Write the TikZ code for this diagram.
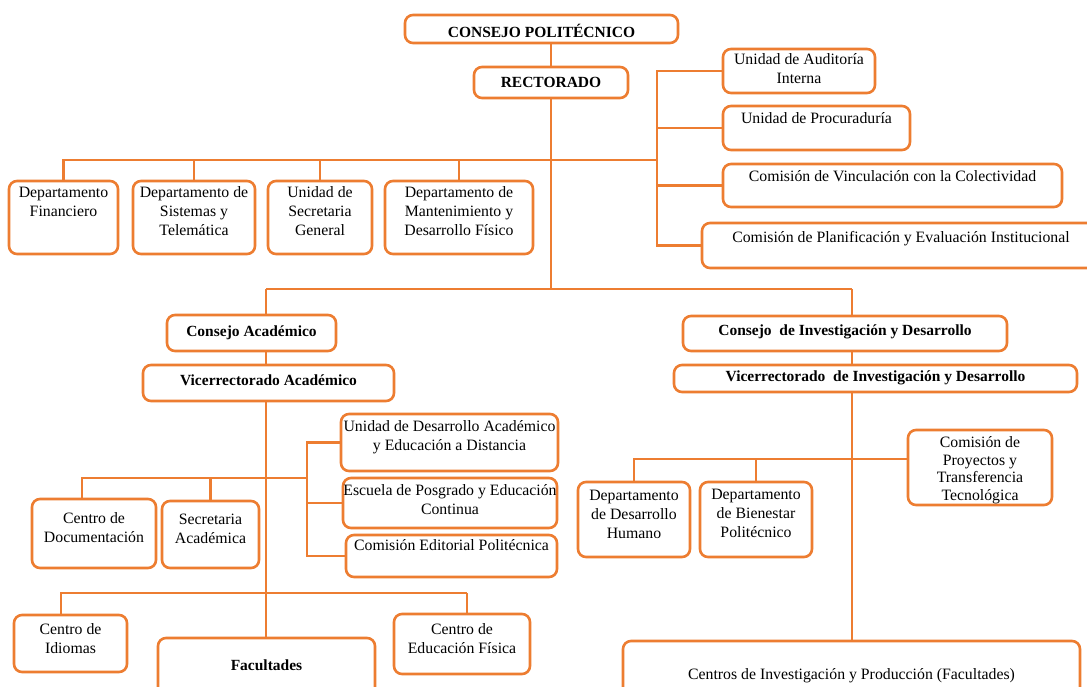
\documentclass[tikz,border=0pt]{standalone}
\usepackage{fontspec}
\setmainfont{Liberation Serif}
\usetikzlibrary{positioning,fit}
\definecolor{orgline}{RGB}{237,125,49}

\begin{document}
\begin{tikzpicture}[x=1pt,y=-1pt,
    box/.style={draw=orgline, line width=2.6pt, rounded corners=8pt, inner sep=0pt, fit={#1}},
    txt/.style={inner sep=0pt, align=center, font=\fontsize{15.8}{19}\selectfont},
    btxt/.style={txt, font=\fontsize{15.5}{19}\selectfont\bfseries},
    conn/.style={draw=orgline, line width=2.6pt}]
  \path[use as bounding box, clip] (0,0) rectangle (1087,686);
  \fill[white] (0,0) rectangle (1087,686);

  % top level
  \node[box={(405,15) (678,43)}] (cp) {};
  \node[box={(474,67) (628,98)}] (rect) {};
  \node[box={(723,49) (875,93)}] (aud) {};
  \node[box={(723,106) (910,150)}] (proc) {};
  \node[box={(723,164) (1062,207)}] (vinc) {};
  \node[box={(702,223) (1100,268)}] (plan) {};
  \node[box={(9,181) (118,254)}] (fin) {};
  \node[box={(133,181) (255,254)}] (sis) {};
  \node[box={(268,181) (372,254)}] (sec) {};
  \node[box={(385,181) (533,254)}] (mant) {};

  % academic branch
  \node[box={(167,315) (336,351)}] (cacad) {};
  \node[box={(143,365) (394,401)}] (vacad) {};
  \node[box={(341,414) (558,471)}] (uda) {};
  \node[box={(343,478) (557,528)}] (esc) {};
  \node[box={(346,535) (557,577)}] (edit) {};
  \node[box={(32,499) (156,568)}] (doc) {};
  \node[box={(162,501) (259,568)}] (secac) {};
  \node[box={(14,615) (127,672)}] (idio) {};
  \node[box={(158,638) (375,700)}] (facu) {};
  \node[box={(394,614) (530,674)}] (efis) {};

  % research branch
  \node[box={(683,316) (1007,351)}] (cinv) {};
  \node[box={(674,365) (1077,392)}] (vinv) {};
  \node[box={(578,482) (690,557)}] (ddh) {};
  \node[box={(700,482) (812,557)}] (dbp) {};
  \node[box={(908,430) (1052,505)}] (cpt) {};
  \node[box={(623,641) (1080,700)}] (cip) {};

  % texts
  \node[btxt, below=10pt of cp.north] (cp-t) {CONSEJO POLITÉCNICO};
  \node[btxt, below=11pt of rect.north] (rect-t) {RECTORADO};
  \node[txt, below=6pt of aud.north] (aud-t) {Unidad de Auditoría\\Interna};
  \node[txt, below=8pt of proc.north] (proc-t) {Unidad de Procuraduría};
  \node[txt, below=8pt of vinc.north] (vinc-t) {Comisión de Vinculación con la Colectividad};
  \node[txt, below=9pt of plan.north] (plan-t) {Comisión de Planificación y Evaluación Institucional};
  \node[txt, below=7pt of fin.north] (fin-t) {Departamento\\Financiero};
  \node[txt, below=7pt of sis.north] (sis-t) {Departamento de\\Sistemas y\\Telemática};
  \node[txt, below=7pt of sec.north] (sec-t) {Unidad de\\Secretaria\\General};
  \node[txt, below=7pt of mant.north] (mant-t) {Departamento de\\Mantenimiento y\\Desarrollo Físico};
  \node[btxt, below=12pt of cacad.north] (cacad-t) {Consejo Académico};
  \node[btxt, below=11pt of vacad.north] (vacad-t) {Vicerrectorado Académico};
  \node[txt, below=8pt of uda.north] (uda-t) {Unidad de Desarrollo Académico\\y Educación a Distancia};
  \node[txt, below=8pt of esc.north] (esc-t) {Escuela de Posgrado y Educación\\Continua};
  \node[txt, below=6pt of edit.north] (edit-t) {Comisión Editorial Politécnica};
  \node[txt, below=15pt of doc.north] (doc-t) {Centro de\\Documentación};
  \node[txt, below=14pt of secac.north] (secac-t) {Secretaria\\Académica};
  \node[txt, below=10pt of idio.north] (idio-t) {Centro de\\Idiomas};
  \node[btxt, below=23pt of facu.north] (facu-t) {Facultades};
  \node[txt, below=11pt of efis.north] (efis-t) {Centro de\\Educación Física};
  \node[btxt, below=10pt of cinv.north] (cinv-t) {Consejo~ de Investigación y Desarrollo};
  \node[btxt, below=7pt of vinv.north] (vinv-t) {Vicerrectorado~ de Investigación y Desarrollo};
  \node[txt, below=9pt of ddh.north] (ddh-t) {Departamento\\de Desarrollo\\Humano};
  \node[txt, below=8pt of dbp.north] (dbp-t) {Departamento\\de Bienestar\\Politécnico};
  \node[txt, font=\fontsize{15.8}{17.5}\selectfont, below=8pt of cpt.north] (cpt-t) {Comisión de\\Proyectos y\\Transferencia\\Tecnológica};
  \node[txt, below=29pt of cip.north] (cip-t) {Centros de Investigación y Producción (Facultades)};

  % junctions
  \coordinate (kR) at (657,160);
  \coordinate (jL) at (266,289);
  \coordinate (jR) at (852,289);
  \coordinate (bL) at (82,478);
  \coordinate (bR) at (307,478);
  \coordinate (cL) at (61,593);
  \coordinate (cR) at (467,593);
  \coordinate (dR) at (852,459);

  % connectors, top
  \draw[conn] (rect.north) -- (rect.north |- cp.south);
  \draw[conn] (fin.north) |- (kR);
  \draw[conn] (sis.north) -- (sis.north |- kR);
  \draw[conn] (sec.north) -- (sec.north |- kR);
  \draw[conn] (mant.north) -- (mant.north |- kR);
  \draw[conn] (aud.west) -| (kR);
  \draw[conn] (plan.west) -| (kR);
  \draw[conn] (proc.west) -- (proc.west -| kR);
  \draw[conn] (vinc.west) -- (vinc.west -| kR);
  \draw[conn] (rect.south) -- (rect.south |- jL);
  \draw[conn] (jL) -- (jR);

  % connectors, academic
  \draw[conn] (jL) -- (jL |- cacad.north);
  \draw[conn] (jL |- cacad.south) -- (jL |- vacad.north);
  \draw[conn] (jL |- vacad.south) -- (jL |- facu.north);
  \draw[conn] (bL |- doc.north) |- (bR);
  \draw[conn] (secac.north) -- (secac.north |- bL);
  \draw[conn] (uda.west) -| (bR);
  \draw[conn] (edit.west) -| (bR);
  \draw[conn] (esc.west) -- (esc.west -| bR);
  \draw[conn] (cL |- idio.north) |- (cR);
  \draw[conn] (cR) -- (cR |- efis.north);

  % connectors, research
  \draw[conn] (jR) -- (jR |- cinv.north);
  \draw[conn] (jR |- cinv.south) -- (jR |- vinv.north);
  \draw[conn] (jR |- vinv.south) -- (jR |- cip.north);
  \draw[conn] (ddh.north) |- (cpt.west |- dR);
  \draw[conn] (dbp.north) -- (dbp.north |- dR);
\end{tikzpicture}
\end{document}
